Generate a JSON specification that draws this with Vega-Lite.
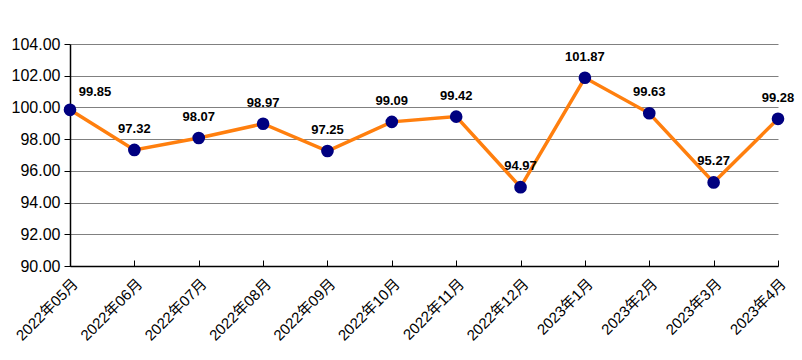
{
  "$schema": "https://vega.github.io/schema/vega-lite/v6.json",
  "width": 708,
  "height": 222,
  "autosize": {"type": "none"},
  "padding": {"left": 70, "top": 44, "right": 24, "bottom": 94},
  "background": "white",
  "config": {
    "view": {"stroke": null},
    "font": "Liberation Sans"
  },
  "data": {
    "values": [
      {"month": "2022年05月", "value": 99.85},
      {"month": "2022年06月", "value": 97.32},
      {"month": "2022年07月", "value": 98.07},
      {"month": "2022年08月", "value": 98.97},
      {"month": "2022年09月", "value": 97.25},
      {"month": "2022年10月", "value": 99.09},
      {"month": "2022年11月", "value": 99.42},
      {"month": "2022年12月", "value": 94.97},
      {"month": "2023年1月", "value": 101.87},
      {"month": "2023年2月", "value": 99.63},
      {"month": "2023年3月", "value": 95.27},
      {"month": "2023年4月", "value": 99.28}
    ]
  },
  "encoding": {
    "x": {
      "field": "month",
      "type": "ordinal",
      "sort": null,
      "scale": {"type": "point", "padding": 0},
      "axis": {
        "title": null,
        "labelAngle": -45,
        "labelFontSize": 15,
        "labelFont": "Liberation Sans, Noto Sans CJK SC",
        "labelColor": "#000000",
        "labelPadding": 16,
        "tickSize": -6,
        "tickColor": "#000000",
        "domainColor": "#000000",
        "domainWidth": 1.5,
        "grid": false
      }
    },
    "y": {
      "field": "value",
      "type": "quantitative",
      "scale": {"domain": [90, 104], "nice": false, "zero": false},
      "axis": {
        "title": null,
        "values": [90, 92, 94, 96, 98, 100, 102, 104],
        "format": ".2f",
        "labelFontSize": 16,
        "labelColor": "#000000",
        "labelPadding": 4,
        "tickSize": 6,
        "tickColor": "#000000",
        "domainColor": "#000000",
        "domainWidth": 1.5,
        "grid": true,
        "gridColor": "#808080",
        "gridWidth": 1
      }
    }
  },
  "layer": [
    {
      "mark": {"type": "line", "color": "#FF7F0E", "strokeWidth": 3.5}
    },
    {
      "mark": {"type": "point", "filled": true, "color": "#000080", "opacity": 1, "size": 160}
    },
    {
      "transform": [{"filter": "datum.month !== '2022年05月'"}],
      "mark": {"type": "text", "fontWeight": "bold", "fontSize": 13, "color": "#000000", "dy": -21, "baseline": "middle"},
      "encoding": {"text": {"field": "value", "type": "quantitative", "format": ".2f"}}
    },
    {
      "transform": [{"filter": "datum.month === '2022年05月'"}],
      "mark": {"type": "text", "fontWeight": "bold", "fontSize": 13, "color": "#000000", "dy": -18, "dx": 25, "baseline": "middle"},
      "encoding": {"text": {"field": "value", "type": "quantitative", "format": ".2f"}}
    }
  ]
}
